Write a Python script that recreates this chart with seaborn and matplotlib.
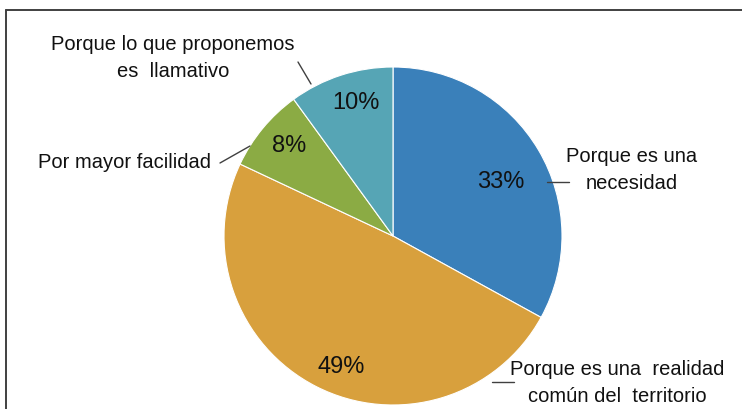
import matplotlib
matplotlib.use("Agg")
import matplotlib.pyplot as plt
import seaborn as sns
from matplotlib.lines import Line2D

# ---- data ----
categories = [
    "Porque es una\nnecesidad",
    "Porque es una  realidad\ncomún del  territorio",
    "Por mayor facilidad",
    "Porque lo que proponemos\nes  llamativo",
]
values = [33, 49, 8, 10]
colors = ["#3A80BA", "#D8A03D", "#8BAB44", "#56A5B5"]

# ---- layout (pixel coordinates from top-left) ----
W, H = 742, 409
center_px = (393, 236)
radius_px = 169
pct_pos_px = [(501, 182), (341, 367), (289, 146), (356, 103)]
label_pos_px = [(632, 170), (617, 383), (125, 163), (173, 58)]
leader_px = [((547, 182), (569, 182)), ((492, 382), (514, 382)),
             ((220, 163), (250, 146)), ((298, 62), (311, 84))]

sns.set_theme(style="white")
plt.rcParams['font.family'] = ['Liberation Sans', 'DejaVu Sans']

fig = plt.figure(figsize=(W / 100, H / 100), dpi=100)
ax = fig.add_axes([0, 0, 1, 1])


def fy(py):
    return H - py


palette = sns.color_palette(colors)
wedges, texts, autotexts = ax.pie(
    values, colors=palette, startangle=90, counterclock=False,
    center=(center_px[0], fy(center_px[1])), radius=radius_px,
    autopct=lambda p: f"{p:.0f}%",
    wedgeprops=dict(edgecolor="white", linewidth=0.8),
    textprops=dict(fontsize=17, color="#111111"),
)
ax.set_aspect('auto')
ax.set_xlim(0, W)
ax.set_ylim(0, H)
ax.axis('off')

for t, (px, py) in zip(autotexts, pct_pos_px):
    t.set_position((px, fy(py)))
    t.set_ha('center')
    t.set_va('center')

for lab, (px, py) in zip(categories, label_pos_px):
    ax.text(px, fy(py), lab, ha='center', va='center', fontsize=14.5,
            linespacing=1.5, color="#111111")

for (x0, y0), (x1, y1) in leader_px:
    ax.plot([x0, x1], [fy(y0), fy(y1)], color="#404040", lw=1.0)

# chart border (top and left)
fig.add_artist(Line2D([6 / W, 1], [1 - 9.5 / H, 1 - 9.5 / H],
                      transform=fig.transFigure, color="#404040", lw=1.4))
fig.add_artist(Line2D([6 / W, 6 / W], [0, 1 - 9.5 / H],
                      transform=fig.transFigure, color="#404040", lw=1.4))

fig.savefig("out.png", dpi=100)
